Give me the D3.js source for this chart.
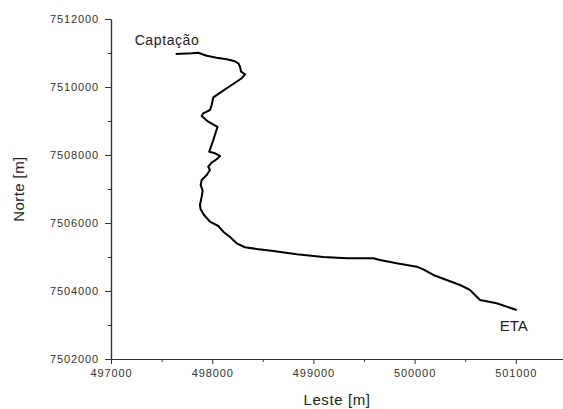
<!DOCTYPE html>
<html>
<head>
<meta charset="utf-8">
<script src="https://cdn.jsdelivr.net/npm/d3@7"></script>
<style>
  body { margin: 0; background: #fff; }
  svg { display: block; font-family: "Liberation Sans", Arial, sans-serif; }
  .tick text { fill: #333; font-size: 11px; letter-spacing: 0.9px; }
  .domain, .tick line { stroke: #333; }
</style>
</head>
<body>
<svg id="chartSVG" width="563" height="409"></svg>
<script>
// route coordinates (Leste / Norte, metres)
const leste = [
  497639, 497797, 497863, 497896, 497946, 498044, 498143, 498215, 498258, 498275,
  498285, 498324, 498291, 498193, 498094, 498011, 497995, 497978, 497912, 497896,
  497961, 498052, 498011, 497971, 498028, 498077, 498044, 497995, 497961, 497978,
  497946, 497896, 497886, 497906, 497896, 497879, 497886, 497919, 497978, 498060,
  498110, 498176, 498242, 498324, 498440, 498604, 498835, 499098, 499329, 499592,
  499658, 499823, 500021, 500086, 500185, 500317, 500449, 500547, 500597, 500646,
  500811, 501009
];
const norte = [
  7510971, 7510991, 7511009, 7510971, 7510921, 7510862, 7510815, 7510765, 7510697, 7510597,
  7510450, 7510374, 7510256, 7510059, 7509862, 7509697, 7509471, 7509324, 7509227, 7509147,
  7508980, 7508824, 7508441, 7508097, 7508050, 7507971, 7507874, 7507774, 7507656, 7507559,
  7507412, 7507265, 7507118, 7506950, 7506774, 7506529, 7506403, 7506236, 7506038, 7505912,
  7505744, 7505589, 7505403, 7505286, 7505236, 7505177, 7505080, 7505000, 7504962, 7504962,
  7504912, 7504815, 7504715, 7504638, 7504471, 7504324, 7504177, 7504030, 7503882, 7503735,
  7503638, 7503441
];

const xMajorTicks = [497000, 498000, 499000, 500000, 501000];
const xMinorTicks = [497500, 498500, 499500, 500500, 501500];
const yMajorTicks = [7502000, 7504000, 7506000, 7508000, 7510000, 7512000];
const yMinorTicks = [7503000, 7505000, 7507000, 7509000, 7511000];

const startLabel = "Captação";
const endLabel = "ETA";

const margin = { top: 19, left: 111 };
const plotHeight = 340;
const pxPer1000 = 101.2;

const x = d3.scaleLinear()
  .domain([497000, 501500])
  .range([margin.left, margin.left + 4.5 * pxPer1000]);
const y = d3.scaleLinear()
  .domain([7502000, 7512000])
  .range([margin.top + plotHeight, margin.top]);

const svg = d3.select("#chartSVG");

// axes
svg.append("g")
  .attr("transform", `translate(0,${y(7502000)})`)
  .call(d3.axisBottom(x).tickValues(xMinorTicks).tickSize(3).tickSizeOuter(0).tickFormat(""));
svg.append("g")
  .attr("transform", `translate(0,${y(7502000)})`)
  .call(d3.axisBottom(x).tickValues(xMajorTicks).tickSize(5).tickSizeOuter(0)
    .tickPadding(5).tickFormat(d3.format("d")));

svg.append("g")
  .attr("transform", `translate(${x(497000)},0)`)
  .call(d3.axisLeft(y).tickValues(yMinorTicks).tickSize(3).tickSizeOuter(0).tickFormat(""));
svg.append("g")
  .attr("transform", `translate(${x(497000)},0)`)
  .call(d3.axisLeft(y).tickValues(yMajorTicks).tickSize(6).tickSizeOuter(0)
    .tickPadding(6).tickFormat(d3.format("d")));

svg.selectAll(".domain").attr("stroke-width", 1.2);

// route line
const pts = leste.map((v, i) => [v, norte[i]]);
svg.append("path")
  .datum(pts)
  .attr("fill", "none")
  .attr("stroke", "#000")
  .attr("stroke-width", 2)
  .attr("stroke-linejoin", "round")
  .attr("d", d3.line().x(d => x(d[0])).y(d => y(d[1])));

// end labels
svg.append("text")
  .attr("x", x(leste[0]) - 41)
  .attr("y", y(norte[0]) - 9)
  .attr("font-size", 14)
  .attr("letter-spacing", 0.6)
  .attr("fill", "#222")
  .text(startLabel);
svg.append("text")
  .attr("x", x(leste[leste.length - 1]) - 17)
  .attr("y", y(norte[norte.length - 1]) + 21)
  .attr("font-size", 15)
  .attr("fill", "#222")
  .text(endLabel);

// axis titles
svg.append("text")
  .attr("x", 337)
  .attr("y", 405)
  .attr("text-anchor", "middle")
  .attr("font-size", 15)
  .attr("letter-spacing", 0.6)
  .attr("fill", "#222")
  .text("Leste [m]");
svg.append("text")
  .attr("transform", "translate(24,189) rotate(-90)")
  .attr("text-anchor", "middle")
  .attr("font-size", 15)
  .attr("letter-spacing", 0.4)
  .attr("fill", "#222")
  .text("Norte [m]");
</script>
</body>
</html>
